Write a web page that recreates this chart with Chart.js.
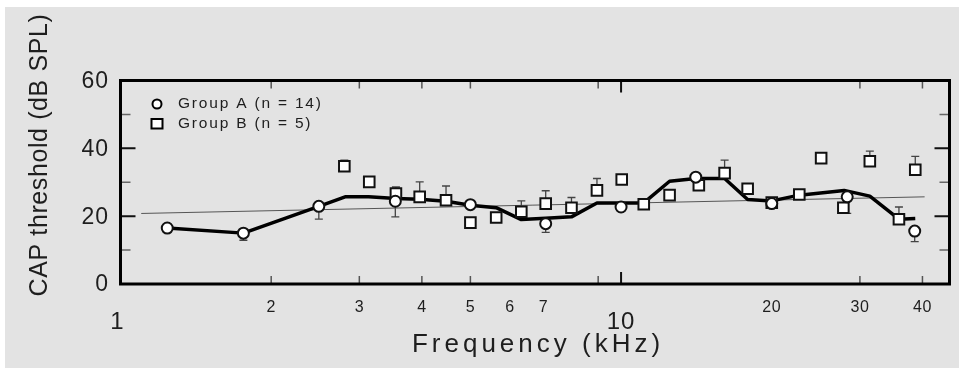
<!DOCTYPE html>
<html>
<head>
<meta charset="utf-8">
<style>
  html, body { margin: 0; padding: 0; background: #ffffff; }
  #back { position: absolute; left: 5px; top: 7px; width: 954px; height: 361px; background: #e3e3e3; }
  #wrap { position: absolute; left: 0; top: 0; width: 959px; height: 368px; }
</style>
<script src="https://cdn.jsdelivr.net/npm/chart.js@4.4.1/dist/chart.umd.min.js"></script>
</head>
<body>
<div id="back"></div>
<div id="wrap"><canvas id="chart" width="959" height="368"></canvas></div>
<script>
// values (frequency in kHz, threshold in dB SPL)
const meanFreq = [1.24, 1.76, 2.49, 2.81, 3.13, 3.55, 3.96, 4.47, 5.0, 5.63, 6.32, 7.07, 7.96, 8.95, 10, 11.1, 12.5, 14.1, 16.1, 17.9, 20, 22.7, 27.9, 31.4, 35.9, 38.7];
const meanDb   = [16.5, 15.0, 22.9, 25.7, 25.7, 25.2, 25.0, 24.4, 23.2, 22.5, 19.0, 19.4, 19.8, 23.9, 23.9, 23.9, 30.3, 31.1, 31.1, 24.9, 24.5, 26.2, 27.6, 25.9, 19.1, 19.3];

const regFreq = [1.1, 40.4];
const regDb   = [20.8, 25.7];

const groupAFreq = [1.24, 1.76, 2.49, 3.54, 5.0, 7.07, 10, 14.1, 20, 28.3, 38.6];
const groupADb   = [16.5, 15.0, 22.9, 24.4, 23.4, 17.8, 22.7, 31.5, 23.7, 25.7, 15.6];
const groupAErr  = [0, 2.1, 3.8, 4.6, 0, 2.6, 0, 0, 0, 4.9, 3.1];

const groupBFreq = [2.80, 3.14, 3.55, 3.96, 4.47, 5.0, 5.63, 6.32, 7.07, 7.96, 8.95, 10.03, 11.1, 12.5, 14.3, 16.1, 17.9, 20, 22.7, 25.1, 27.8, 31.4, 35.9, 38.7];
const groupBDb   = [34.7, 30.1, 26.7, 25.7, 24.7, 18.1, 19.6, 21.3, 23.7, 22.5, 27.6, 30.8, 23.5, 26.2, 29.1, 32.7, 28.1, 24.0, 26.4, 37.1, 22.5, 36.2, 19.1, 33.7];
const groupBErr  = [1.8, 0, 1.9, 4.4, 4.2, 0, 0, 3.2, 3.8, 3.0, 3.5, 0, 1.2, 0, 0, 3.8, 0, 0, 0, 0, 0, 3.0, 3.6, 3.9];

const yTicks = [0, 20, 40, 60];
const yMinorTicks = [10, 30, 50];
const xTickLabels = [1, 2, 3, 4, 5, 6, 7, 10, 20, 30, 40];
const xBigLabels = [1, 10];
const xTickMarks = [2, 3, 4, 5, 9, 10, 30, 40];

const legendLabels = ['Group A (n = 14)', 'Group B (n = 5)'];

function pts(xs, ys) {
    return xs.map((x, i) => ({ x: x, y: ys[i] }));
}

const FONT = '"Liberation Sans", Arial, sans-serif';
const INK = '#1e1e1e';

// error bars, drawn under the markers
const errorBars = {
    id: 'errorBars',
    beforeDatasetsDraw(chart) {
        const ctx = chart.ctx;
        const xs = chart.scales.x, ys = chart.scales.y;
        ctx.save();
        ctx.strokeStyle = '#444';
        ctx.lineWidth = 1.3;
        function bar(f, v, e, dir) {
            if (!e) return;
            const px = xs.getPixelForValue(f);
            const p0 = ys.getPixelForValue(v);
            const p1 = ys.getPixelForValue(v + dir * e);
            ctx.beginPath();
            ctx.moveTo(px, p0);
            ctx.lineTo(px, p1);
            ctx.moveTo(px - 4, p1);
            ctx.lineTo(px + 4, p1);
            ctx.stroke();
        }
        groupAFreq.forEach((f, i) => bar(f, groupADb[i], groupAErr[i], -1));
        groupBFreq.forEach((f, i) => bar(f, groupBDb[i], groupBErr[i], 1));
        ctx.restore();
    }
};

// frame, inward ticks, tick labels, titles and legend
const frame = {
    id: 'frame',
    afterDraw(chart) {
        const ctx = chart.ctx;
        const a = chart.chartArea;
        const xs = chart.scales.x, ys = chart.scales.y;
        ctx.save();

        // y ticks, both sides
        yTicks.concat(yMinorTicks).forEach(v => {
            if (v === 0 || v === 60) return;
            const major = yTicks.includes(v);
            const py = ys.getPixelForValue(v);
            const len = major ? 15 : 10;
            ctx.strokeStyle = major ? '#111' : '#666';
            ctx.lineWidth = major ? 2 : 1.5;
            ctx.beginPath();
            ctx.moveTo(a.left, py); ctx.lineTo(a.left + len, py);
            ctx.moveTo(a.right, py); ctx.lineTo(a.right - len, py);
            ctx.stroke();
        });

        // x ticks, top and bottom
        xTickMarks.forEach(f => {
            const px = xs.getPixelForValue(f);
            const len = f === 10 ? 12 : 8;
            ctx.strokeStyle = f === 10 ? '#111' : '#555';
            ctx.lineWidth = f === 10 ? 2 : 1.5;
            ctx.beginPath();
            ctx.moveTo(px, a.bottom); ctx.lineTo(px, a.bottom - len);
            ctx.moveTo(px, a.top); ctx.lineTo(px, a.top + len);
            ctx.stroke();
        });

        // box
        ctx.strokeStyle = '#000';
        ctx.lineWidth = 3;
        ctx.strokeRect(a.left, a.top, a.right - a.left, a.bottom - a.top);

        ctx.fillStyle = INK;

        // y tick labels
        ctx.font = '23px ' + FONT;
        ctx.textAlign = 'right';
        ctx.textBaseline = 'middle';
        ctx.letterSpacing = '1px';
        yTicks.forEach(v => {
            ctx.fillText(String(v), 109, ys.getPixelForValue(v) + 1);
        });

        // x tick labels
        ctx.textAlign = 'center';
        xTickLabels.forEach(f => {
            const big = xBigLabels.includes(f);
            ctx.font = (big ? '24px ' : '16px ') + FONT;
            ctx.letterSpacing = big ? '1px' : '0.5px';
            ctx.fillText(String(f), xs.getPixelForValue(f) - (f === 1 ? 3 : 0), big ? 322 : 308);
        });

        // axis titles
        ctx.font = '26px ' + FONT;
        ctx.letterSpacing = '4px';
        ctx.fillText('Frequency (kHz)', 538, 345);

        ctx.save();
        ctx.translate(40, 155);
        ctx.rotate(-Math.PI / 2);
        ctx.font = '25px ' + FONT;
        ctx.letterSpacing = '0.6px';
        ctx.fillText('CAP threshold (dB SPL)', 0, 0);
        ctx.restore();

        // legend
        ctx.strokeStyle = '#000';
        ctx.lineWidth = 2;
        ctx.fillStyle = '#fff';
        ctx.beginPath();
        ctx.arc(157, 104, 4.5, 0, Math.PI * 2);
        ctx.fill(); ctx.stroke();
        ctx.fillRect(151.5, 119, 11, 9.5);
        ctx.strokeRect(151.5, 119, 11, 9.5);

        ctx.fillStyle = INK;
        ctx.font = '15.5px ' + FONT;
        ctx.letterSpacing = '1.8px';
        ctx.textAlign = 'left';
        ctx.fillText(legendLabels[0], 178, 104);
        ctx.fillText(legendLabels[1], 178, 124);

        ctx.restore();
    }
};

new Chart(document.getElementById('chart'), {
    type: 'scatter',
    data: {
        datasets: [
            {
                label: 'Group A',
                data: pts(groupAFreq, groupADb),
                pointStyle: 'circle',
                pointRadius: 5.5,
                pointBorderWidth: 2,
                pointBackgroundColor: '#ffffff',
                pointBorderColor: '#111111',
                order: 1
            },
            {
                label: 'Group B',
                data: pts(groupBFreq, groupBDb),
                pointStyle: 'rect',
                pointRadius: 7.5,
                pointBorderWidth: 2,
                pointBackgroundColor: '#ffffff',
                pointBorderColor: '#111111',
                order: 2
            },
            {
                label: 'Mean',
                data: pts(meanFreq, meanDb),
                showLine: true,
                borderColor: '#000000',
                borderWidth: 3.5,
                borderJoinStyle: 'round',
                pointRadius: 0,
                order: 3
            },
            {
                label: 'Fit',
                data: pts(regFreq, regDb),
                showLine: true,
                borderColor: '#555555',
                borderWidth: 1,
                pointRadius: 0,
                order: 4
            }
        ]
    },
    options: {
        responsive: false,
        animation: false,
        layout: { padding: { left: 120.5, top: 80.5, right: 3.2, bottom: 84 } },
        scales: {
            x: { type: 'logarithmic', min: 1, max: 45.3, display: false },
            y: { type: 'linear', min: 0, max: 60, display: false }
        },
        plugins: {
            legend: { display: false },
            tooltip: { enabled: false }
        }
    },
    plugins: [errorBars, frame]
});
</script>
</body>
</html>
